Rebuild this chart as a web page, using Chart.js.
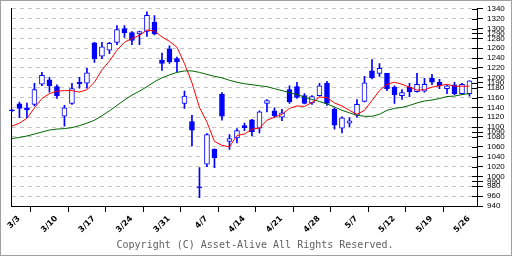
<!DOCTYPE html>
<html><head><meta charset="utf-8">
<script src="https://cdn.jsdelivr.net/npm/chart.js@4.4.1/dist/chart.umd.min.js"></script>
<style>html,body{margin:0;padding:0;background:#fff}canvas{display:block}</style>
</head><body>
<canvas id="c" width="512" height="256"></canvas>
<script>
// ---- data ----
const tickLabels = ['3/3','3/10','3/17','3/24','3/31','4/7','4/14','4/21','4/28','5/7','5/12','5/19','5/26'];
const yTicks = [1340,1320,1300,1290,1280,1260,1240,1220,1200,1190,1180,1160,1140,1120,1100,1090,1080,1060,1040,1020,1000,990,980,960,940];

const opens  = [1134,1147,1139,1146,1187,1196,1182,1122,1148,1191,1189,1271,1244,1256,1272,1300,1292,1289,1294,1313,
                1236,1259,1239,1148,1111,979,1025,1055,1167,1071,1078,1103,1115,1098,1148,1133,1120,1176,1182,1164,
                1149,1164,1189,1136,1098,1108,1124,1152,1214,1209,1209,1181,1164,1181,1172,1173,1199,1191,1178,1186,
                1168,1168];
const highs  = [1136,1151,1149,1189,1211,1201,1186,1144,1189,1201,1219,1272,1272,1272,1306,1306,1294,1295,1334,1326,
                1250,1265,1242,1173,1124,1018,1087,1056,1170,1085,1097,1108,1116,1133,1156,1139,1136,1184,1191,1168,
                1164,1189,1193,1139,1121,1119,1156,1203,1237,1229,1209,1184,1176,1189,1209,1199,1207,1197,1185,1191,
                1189,1194];
const lows   = [1132,1119,1119,1143,1184,1171,1158,1102,1146,1179,1179,1231,1239,1249,1267,1282,1267,1267,1284,1287,
                1215,1229,1212,1138,1062,957,1020,1018,1114,1055,1068,1093,1082,1088,1131,1119,1113,1148,1158,1147,
                1146,1163,1144,1096,1088,1101,1120,1151,1198,1203,1174,1148,1156,1162,1171,1171,1186,1178,1168,1166,
                1166,1163];
const closes = [1133,1138,1135,1176,1205,1184,1164,1139,1178,1188,1210,1239,1263,1270,1298,1291,1276,1294,1327,1289,
                1229,1232,1232,1163,1094,977,1085,1038,1122,1077,1093,1099,1091,1131,1154,1123,1129,1151,1160,1148,
                1162,1184,1148,1104,1119,1113,1146,1190,1200,1219,1178,1166,1170,1172,1187,1187,1191,1184,1184,1168,
                1187,1194];
const maShort = [1102,1108,1118,1139,1158,1168,1173,1174,1174,1171,1176,1191,1216,1234,1256,1272,1280,1286,1297,1295,
                 1283,1274,1262,1229,1190,1140,1110,1071,1063,1060,1083,1086,1096,1098,1114,1120,1126,1138,1143,1142,
                 1150,1161,1160,1149,1143,1134,1126,1134,1154,1174,1187,1191,1187,1181,1175,1176,1181,1184,1187,1183,
                 1183,1183];
const maLong  = [1077,1079,1082,1086,1090,1094,1096,1097,1099,1103,1108,1114,1123,1133,1144,1155,1165,1173,1182,1192,
                 1200,1206,1211,1214,1214,1211,1207,1203,1200,1195,1191,1188,1186,1184,1182,1178,1174,1170,1166,1161,
                 1156,1152,1147,1141,1134,1129,1124,1122,1122,1126,1134,1138,1140,1144,1149,1153,1155,1158,1162,1163,
                 1166,1168];
// one category slot per trading day plus one empty slot at the right edge
const categories = Array.from({length: opens.length + 1}, (_, i) => String(i));

const BLUE = '#0000ff';

const decor = {
  id: 'decor',
  beforeDraw(chart) {
    const ctx = chart.ctx;
    ctx.save();
    ctx.fillStyle = '#ffffff';
    ctx.fillRect(0, 0, chart.width, chart.height);
    ctx.restore();
  },
  afterDraw(chart) {
    const ctx = chart.ctx, ca = chart.chartArea, ys = chart.scales.y;
    ctx.save();
    // inner half of the right-axis tick marks
    ctx.strokeStyle = '#000';
    ctx.lineWidth = 1;
    ctx.beginPath();
    ys.ticks.forEach(t => {
      const py = Math.round(ys.getPixelForValue(t.value)) + 0.5;
      ctx.moveTo(ca.right - 5, py);
      ctx.lineTo(ca.right, py);
    });
    ctx.stroke();
    // copyright
    ctx.fillStyle = '#606060';
    ctx.font = '10px "DejaVu Sans Mono"';
    ctx.textAlign = 'center';
    ctx.textBaseline = 'alphabetic';
    ctx.fillText('Copyright (C) Asset-Alive All Rights Reserved.', 255, 248);
    // outer frame
    ctx.strokeStyle = '#a0a0a0';
    ctx.strokeRect(0.5, 0.5, chart.width - 1, chart.height - 1);
    ctx.restore();
  }
};

new Chart(document.getElementById('c'), {
  type: 'bar',
  data: {
    labels: categories,
    datasets: [
      { type: 'line', data: maShort, borderColor: '#ff0000', borderWidth: 1, pointRadius: 0, tension: 0, order: 0, yAxisID: 'y' },
      { type: 'line', data: maLong, borderColor: '#006400', borderWidth: 1, pointRadius: 0, tension: 0, order: 1, yAxisID: 'y' },
      { type: 'bar', data: opens.map((o, i) => [o, closes[i]]),
        backgroundColor: c => closes[c.dataIndex] >= opens[c.dataIndex] ? '#ffffff' : BLUE,
        borderColor: BLUE, borderWidth: 1, borderSkipped: false, barThickness: 5, minBarLength: 1,
        grouped: false, order: 2, clip: 8, yAxisID: 'y' },
      { type: 'bar', data: lows.map((l, i) => [l, highs[i]]),
        backgroundColor: BLUE, borderWidth: 0, barThickness: 1, grouped: false, order: 3, clip: 8, yAxisID: 'y' }
    ]
  },
  options: {
    responsive: false,
    animation: false,
    devicePixelRatio: 1,
    layout: { padding: { left: 10, right: 0, top: 5, bottom: 0 } },
    plugins: { legend: { display: false }, tooltip: { enabled: false } },
    scales: {
      x: {
        offset: false,
        afterBuildTicks: s => { s.ticks = s.ticks.filter(t => t.value % 5 === 0 && t.value / 5 < tickLabels.length); },
        afterFit: s => { s.height = 50; },
        ticks: { autoSkip: false, minRotation: 45, maxRotation: 45, labelOffset: 7, padding: 2,
                 font: { family: 'DejaVu Sans', size: 8, weight: 'bold' }, color: '#000',
                 callback: v => tickLabels[v / 5] },
        grid: { display: true, drawOnChartArea: false, drawTicks: true, tickLength: 6, tickColor: '#000', color: '#000' },
        border: { display: true, color: '#000' }
      },
      y: {
        position: 'right', min: 940, max: 1340,
        afterBuildTicks: s => { s.ticks = yTicks.map(v => ({ value: v })); },
        afterFit: s => { s.width = 35; },
        ticks: { autoSkip: false, padding: 4, color: '#000', font: { family: 'Liberation Sans', size: 8 },
                 callback: v => String(v) },
        grid: { display: true, drawOnChartArea: true, drawTicks: true, tickLength: 6, tickColor: '#000',
                tickBorderDash: [], lineWidth: 1,
                color: c => (c.tick && c.tick.value % 20 === 0 && c.tick.value !== 940) ? '#c4c4c4' : 'rgba(0,0,0,0)' },
        border: { display: true, color: '#000', dash: [4, 4] }
      },
      yL: {
        position: 'left', min: 940, max: 1340, display: true,
        afterFit: s => { s.width = 0; },
        ticks: { display: false },
        grid: { display: false, drawOnChartArea: false, drawTicks: false },
        border: { display: true, color: '#000' }
      }
    }
  },
  plugins: [decor]
});
</script>
</body></html>
